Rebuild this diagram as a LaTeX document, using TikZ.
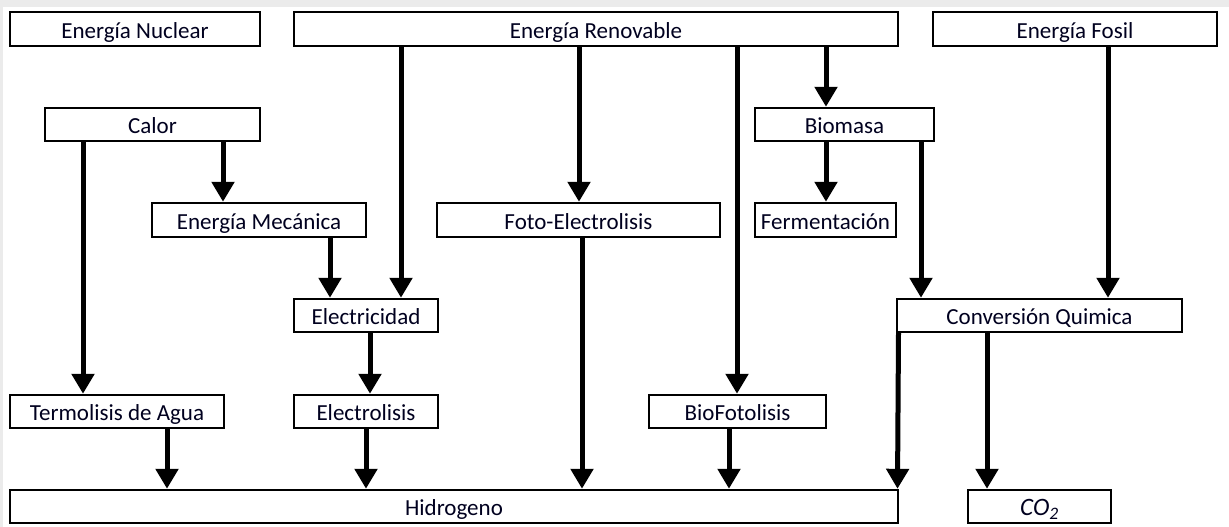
\documentclass[tikz,border=0pt]{standalone}
\usepackage{fontspec}
\setmainfont{Carlito}
\usetikzlibrary{arrows.meta}
\tikzset{
  box/.style={draw=black, line width=2.4pt, fill=white, inner sep=0pt,
    font=\fontsize{23}{27}\selectfont, text=black!88!blue,
    text height=19.5pt, text depth=1pt},
  flow/.style={line width=5pt, -{Triangle[width=22pt,length=20pt]}},
}
\begin{document}
\begin{tikzpicture}[x=1pt,y=-1pt]
% page frame
\fill[black!8] (0,0) rectangle (1229,527);
\fill[white] (3,7) rectangle (1229,527);
\useasboundingbox (0,0) rectangle (1229,527);

% sources
\node[box, minimum width=250pt, minimum height=34pt] (nuc) at (135,29) {Energía Nuclear};
\node[box, minimum width=604pt, minimum height=34pt] (ren) at (596,29) {Energía Renovable};
\node[box, minimum width=284pt, minimum height=34pt] (fos) at (1075,29) {Energía Fosil};

% intermediate stages
\node[box, minimum width=215pt, minimum height=33pt] (cal) at (152.5,124.5) {Calor};
\node[box, minimum width=179pt, minimum height=33pt] (bio) at (844.5,124.5) {Biomasa};
\node[box, minimum width=214pt, minimum height=34pt] (mec) at (259,220) {Energía Mecánica};
\node[box, minimum width=283pt, minimum height=34pt] (foto) at (578.5,220) {Foto-Electrolisis};
\node[box, minimum width=141pt, minimum height=34pt] (fer) at (825.5,220) {Fermentación};
\node[box, minimum width=144pt, minimum height=33pt] (ele) at (366,315.5) {Electricidad};
\node[box, minimum width=285pt, minimum height=33pt] (conv) at (1039.5,315.5) {Conversión Quimica};
\node[box, minimum width=214pt, minimum height=33pt] (term) at (117,411.5) {Termolisis de Agua};
\node[box, minimum width=144pt, minimum height=33pt] (elis) at (366,411.5) {Electrolisis};
\node[box, minimum width=177pt, minimum height=33pt] (biof) at (737.5,411.5) {BioFotolisis};

% products
\node[box, minimum width=888pt, minimum height=33pt] (hid) at (454,506.5) {Hidrogeno};
\node[box, minimum width=143pt, minimum height=33pt] (co2) at (1039.5,506.5)
  {\fontsize{25}{28}\selectfont\itshape CO\textsubscript{2}};

% flows
\draw[flow] (401,0 |- ren.south) -- (401,0 |- ele.north);
\draw[flow] (579,0 |- ren.south) -- (579,0 |- foto.north);
\draw[flow] (737,0 |- ren.south) -- (737,0 |- biof.north);
\draw[flow] (826,0 |- ren.south) -- (826,0 |- bio.north);
\draw[flow] (1108,0 |- fos.south) -- (1108,0 |- conv.north);

\draw[flow] (83,0 |- cal.south) -- (83,0 |- term.north);
\draw[flow] (223,0 |- cal.south) -- (223,0 |- mec.north);
\draw[flow] (330,0 |- mec.south) -- (330,0 |- ele.north);
\draw[flow] (370,0 |- ele.south) -- (370,0 |- elis.north);

\draw[flow] (826,0 |- bio.south) -- (826,0 |- fer.north);
\draw[flow] (921,0 |- bio.south) -- (921,0 |- conv.north);

\draw[flow] (167,0 |- term.south) -- (167,0 |- hid.north);
\draw[flow] (366,0 |- elis.south) -- (366,0 |- hid.north);
\draw[flow] (582,0 |- foto.south) -- (582,0 |- hid.north);
\draw[flow] (729,0 |- biof.south) -- (729,0 |- hid.north);
\draw[flow] (898.5,0 |- conv.south) -- (897.5,0 |- hid.north);
\draw[flow] (987,0 |- conv.south) -- (987,0 |- co2.north);
\end{tikzpicture}
\end{document}
